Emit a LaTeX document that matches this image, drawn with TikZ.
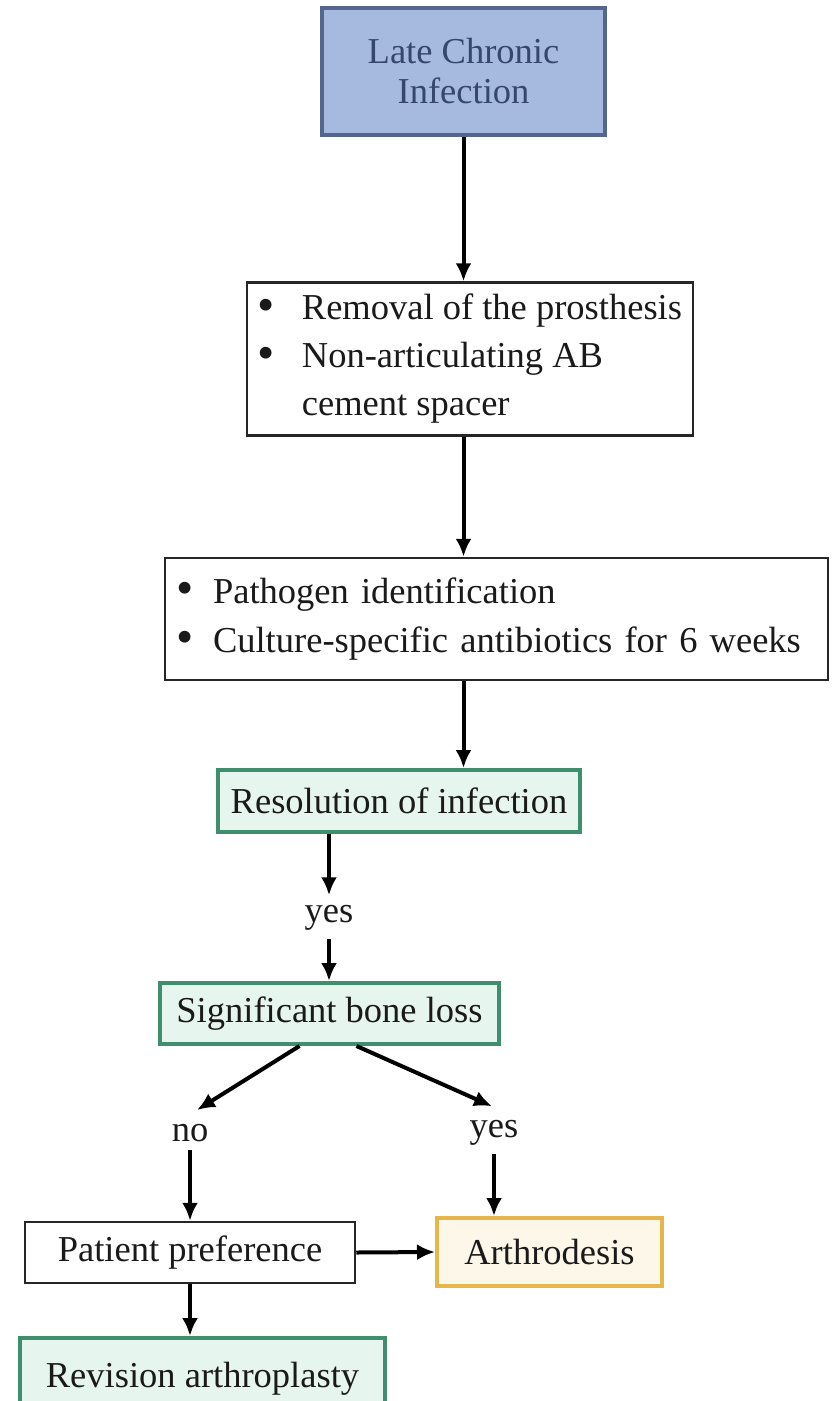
\documentclass[tikz,border=0pt]{standalone}
\usepackage{fontspec}
\setmainfont{Liberation Serif}
\usetikzlibrary{arrows.meta}
\definecolor{txt}{HTML}{1A1A1A}
\definecolor{bluefill}{HTML}{A6BADF}
\definecolor{blueline}{HTML}{55668E}
\definecolor{bluetxt}{HTML}{36476E}
\definecolor{greenline}{HTML}{3F8F6E}
\definecolor{greenfill}{HTML}{E7F5EF}
\definecolor{orangeline}{HTML}{E6B54C}
\definecolor{orangefill}{HTML}{FDF7EA}
\newcommand{\bul}{\raisebox{-1.5pt}{\scalebox{1.35}{\textbullet}}}
\tikzset{
  base/.style={font=\fontsize{36.5}{48}\selectfont, text=txt},
  plainbox/.style={base, draw=black!85, line width=2.5pt, fill=white, inner sep=0pt},
  bluebox/.style={base, draw=blueline, line width=4pt, fill=bluefill, text=bluetxt, align=center, inner sep=0pt},
  greenbox/.style={base, draw=greenline, line width=4pt, fill=greenfill, inner sep=0pt},
  orangebox/.style={base, draw=orangeline, line width=4pt, fill=orangefill, inner sep=0pt},
  lbl/.style={base, inner sep=0pt},
  arr/.style={draw=black, line width=4pt, -{Latex[length=18pt,width=16pt]}}
}
\begin{document}
\begin{tikzpicture}[x=1pt,y=-1pt]
\useasboundingbox (0,0) rectangle (831,1401);
\node[bluebox, minimum width=283pt, minimum height=127pt,
      font=\fontsize{36.5}{40}\selectfont] (b1) at (463.5,71.5) {Late Chronic\\Infection};
\node[plainbox, minimum width=446pt, minimum height=153pt, align=left] (b2) at (470,359)
  {\makebox[44pt][l]{\bul}Removal of the prosthesis\\
   \makebox[44pt][l]{\bul}Non-articulating AB\\
   \hspace*{44pt}cement spacer};
\node[plainbox, minimum width=663pt, minimum height=122pt, text width=641pt, inner xsep=11pt, align=left,
      font=\fontsize{36.5}{49}\selectfont] (b3) at (496.5,619)
  {\makebox[37pt][l]{\bul}Pathogen identification\\
   \makebox[37pt][l]{\bul}Culture-specific antibiotics for 6 weeks};
\node[greenbox, minimum width=362pt, minimum height=62pt] (b4) at (399,801) {Resolution of infection};
\node[lbl] (yes1) at (329,918) {yes};
\node[greenbox, minimum width=339pt, minimum height=61pt] (b5) at (329.5,1013.5) {Significant bone loss};
\node[lbl] (no) at (190,1133) {no};
\node[lbl] (yes2) at (494,1133) {yes};
\node[plainbox, minimum width=330pt, minimum height=61pt] (b6) at (190,1252.5) {Patient preference};
\node[orangebox, minimum width=225pt, minimum height=68pt] (b7) at (549.5,1252) {Arthrodesis};
\begin{scope}
\clip (0,0) rectangle (831,1401);
\node[greenbox, minimum width=365pt, minimum height=82pt] (b8) at (202.5,1379) {Revision arthroplasty};
\end{scope}
\draw[arr] (b1.south) -- (b1.south |- b2.north);
\draw[arr] (b2.south -| b1.south) -- (b3.north -| b1.south);
\draw[arr] (b3.south -| b1.south) -- (b4.north -| b1.south);
\draw[arr] (b4.south -| yes1) -- ([yshift=10pt]yes1.north);
\draw[arr] ([yshift=-8pt]yes1.south) -- (b5.north -| yes1);
\draw[arr] ([xshift=-30pt]b5.south) -- ([xshift=7pt,yshift=14pt]no.north);
\draw[arr] ([xshift=27pt]b5.south) -- ([xshift=-2pt,yshift=14pt]yes2.north);
\draw[arr] ([yshift=-8pt]no.south) -- (no.south |- b6.north);
\draw[arr] ([yshift=-8pt]yes2.south) -- (yes2.south |- b7.north);
\draw[arr] (b6.east) -- (b7.west);
\draw[arr] (b6.south) -- (b6.south |- b8.north);
\end{tikzpicture}
\end{document}
